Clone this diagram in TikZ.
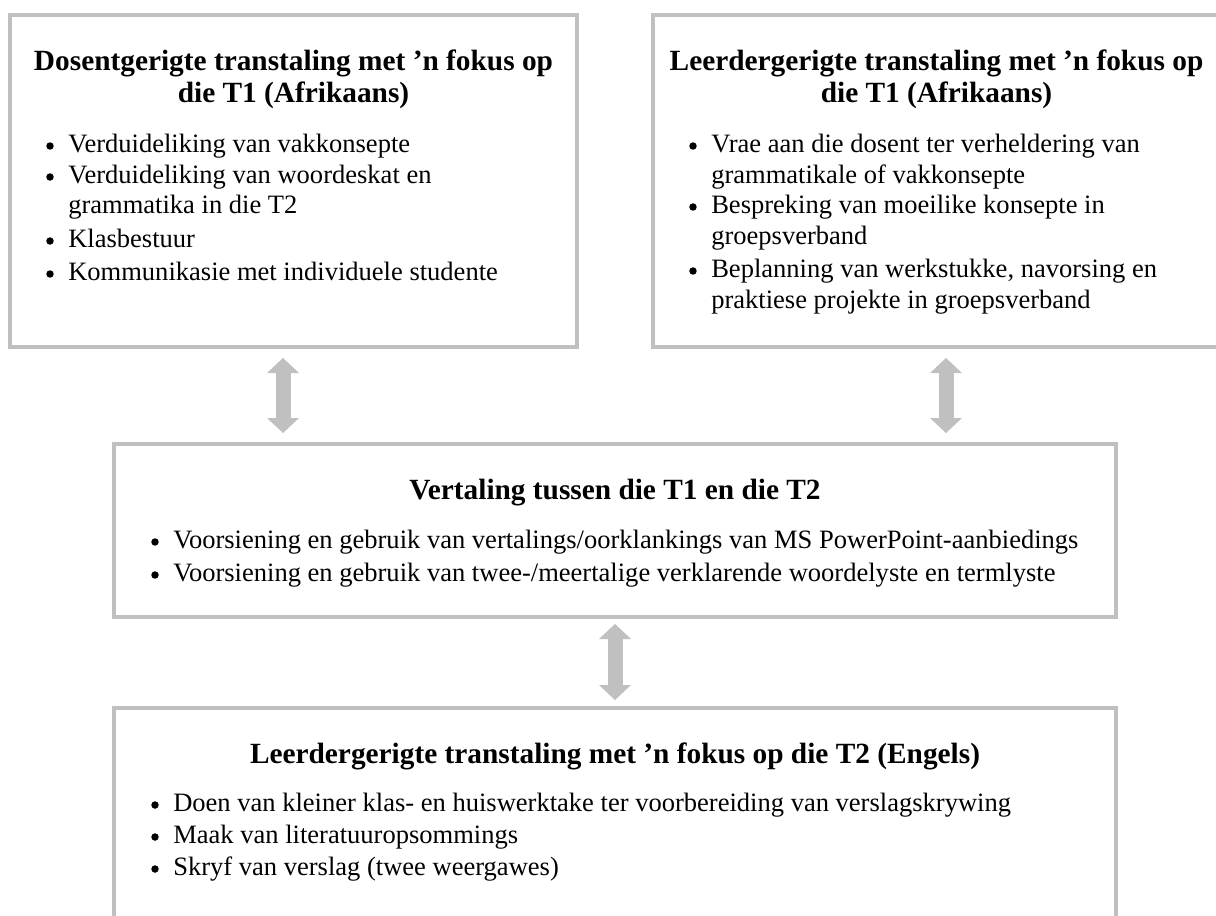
\documentclass[tikz,border=0pt]{standalone}
\usepackage{fontspec}
\setmainfont{Liberation Serif}
\usetikzlibrary{arrows.meta,fit}
\definecolor{boxgray}{RGB}{192,192,192}
\begin{document}
\begin{tikzpicture}[x=0.75pt,y=-0.75pt,
  box/.style={draw=boxgray,line width=2.8pt,inner sep=0pt},
  ttl/.style={font=\fontsize{22}{26}\selectfont\bfseries,anchor=base,inner sep=0pt},
  txt/.style={font=\fontsize{19.9}{23}\selectfont,anchor=base west,inner sep=0pt},
  dot/.style={circle,fill=black,draw=none,inner sep=0pt,minimum size=5.6pt},
  dbl/.style={draw=boxgray,line width=11.25pt,
    {Triangle[width=24pt,length=11.25pt,line width=0pt]}-{Triangle[width=24pt,length=11.25pt,line width=0pt]}}
]
\useasboundingbox (0,0) rectangle (1216,915);
\fill[white] (0,0) rectangle (1216,915);

% boxes
\node[box,fit={(10,15) (577,347)}] (b1) {};
\node[box,fit={(653,15) (1222,347)}] (b2) {};
\node[box,fit={(114,444) (1116,617)}] (b3) {};
\node[box,fit={(114,708) (1116,930)}] (b4) {};

% box 1
\node[ttl] (t1a) at (293.5,70) {Dosentgerigte transtaling met ’n fokus op};
\node[ttl] (t1b) at (293.5,102) {die T1 (Afrikaans)};
\node[dot] (p1a) at (50,146) {};
\node[txt] (l1a) at (68,152) {Verduideliking van vakkonsepte};
\node[dot] (p1b) at (50,177) {};
\node[txt] (l1b) at (68,183) {Verduideliking van woordeskat en};
\node[txt] (l1c) at (68,213) {grammatika in die T2};
\node[dot] (p1d) at (50,241) {};
\node[txt] (l1d) at (68,247) {Klasbestuur};
\node[dot] (p1e) at (50,274) {};
\node[txt] (l1e) at (68,280) {Kommunikasie met individuele studente};

% box 2
\node[ttl] (t2a) at (936.5,70) {Leerdergerigte transtaling met ’n fokus op};
\node[ttl] (t2b) at (936.5,102) {die T1 (Afrikaans)};
\node[dot] (p2a) at (693,146) {};
\node[txt] (l2a) at (711,152) {Vrae aan die dosent ter verheldering van};
\node[txt] (l2b) at (711,183) {grammatikale of vakkonsepte};
\node[dot] (p2c) at (693,207) {};
\node[txt] (l2c) at (711,213) {Bespreking van moeilike konsepte in};
\node[txt] (l2d) at (711,244) {groepsverband};
\node[dot] (p2e) at (693,271) {};
\node[txt] (l2e) at (711,277) {Beplanning van werkstukke, navorsing en};
\node[txt] (l2f) at (711,308) {praktiese projekte in groepsverband};

% box 3
\node[ttl] (t3) at (615,499) {Vertaling tussen die T1 en die T2};
\node[dot] (p3a) at (155,542) {};
\node[txt] (l3a) at (173,548) {Voorsiening en gebruik van vertalings/oorklankings van MS PowerPoint-aanbiedings};
\node[dot] (p3b) at (155,575) {};
\node[txt] (l3b) at (173,581) {Voorsiening en gebruik van twee-/meertalige verklarende woordelyste en termlyste};

% box 4
\node[ttl] (t4) at (615,763) {Leerdergerigte transtaling met ’n fokus op die T2 (Engels)};
\node[dot] (p4a) at (155,805) {};
\node[txt] (l4a) at (173,811) {Doen van kleiner klas- en huiswerktake ter voorbereiding van verslagskrywing};
\node[dot] (p4b) at (155,837) {};
\node[txt] (l4b) at (173,843) {Maak van literatuuropsommings};
\node[dot] (p4c) at (155,869) {};
\node[txt] (l4c) at (173,875) {Skryf van verslag (twee weergawes)};

% double arrows
\coordinate (a1s) at (283,358);
\coordinate (a1e) at (283,433);
\coordinate (a2s) at (946,358);
\coordinate (a2e) at (946,433);
\coordinate (a3s) at (615,624);
\coordinate (a3e) at (615,700);
\draw[dbl] (a1s) -- (a1e);
\draw[dbl] (a2s) -- (a2e);
\draw[dbl] (a3s) -- (a3e);
\end{tikzpicture}
\end{document}
